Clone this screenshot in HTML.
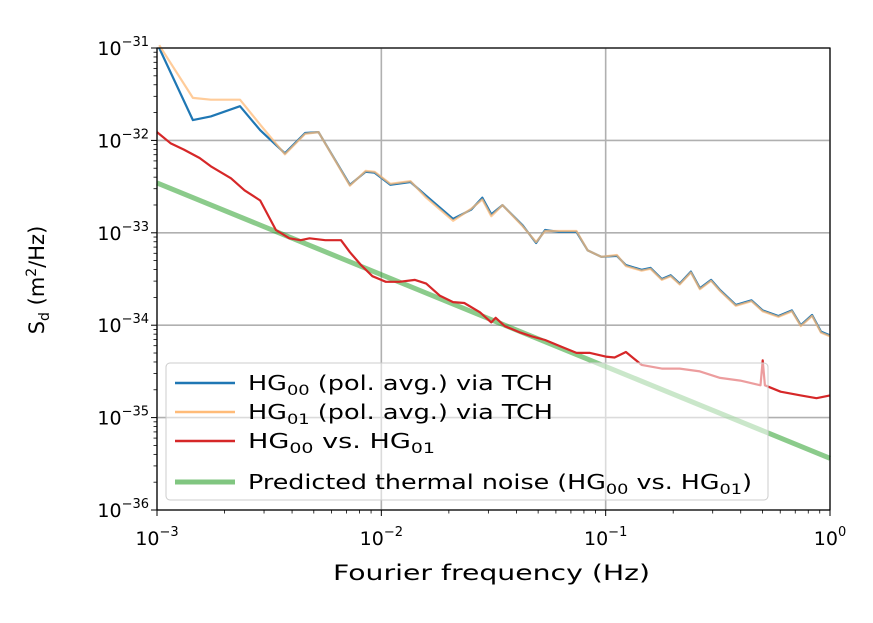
<!DOCTYPE html>
<html><head><meta charset="utf-8"><style>
body{margin:0;background:#fff;}
svg{font-family:"DejaVu Sans","Liberation Sans",sans-serif;}
</style></head><body>
<svg id="chart" width="873" height="618" viewBox="0 0 873 618" xmlns="http://www.w3.org/2000/svg">
<g id="grid"></g>
<g id="series"></g>
<rect x="157" y="48" width="673" height="462" fill="none" stroke="#000" stroke-width="1.2"/>
<g id="ticks"></g>
<text x="333" y="580" font-size="21" textLength="317" lengthAdjust="spacingAndGlyphs">Fourier frequency (Hz)</text>
<text transform="translate(44,280) rotate(-90)" font-size="21" text-anchor="middle">S<tspan font-size="14" dy="5">d</tspan><tspan dy="-5"> (m</tspan><tspan font-size="14" dy="-8">2</tspan><tspan dy="8">/Hz)</tspan></text>
<g id="legend">
<rect x="166" y="363" width="602" height="137" rx="4" fill="rgba(255,255,255,0.55)" stroke="#ccc"/>
<g><line x1="175" y1="383" x2="235" y2="383" stroke="#1f77b4" stroke-width="2.5"/><text x="248" y="390" font-size="20" textLength="305" lengthAdjust="spacingAndGlyphs">HG<tspan font-size="14" dy="5">00</tspan><tspan dy="-5"> (pol. avg.) via TCH</tspan></text></g>
<g><line x1="175" y1="412" x2="235" y2="412" stroke="#ffbb78" stroke-width="2.5"/><text x="248" y="419" font-size="20" textLength="305" lengthAdjust="spacingAndGlyphs">HG<tspan font-size="14" dy="5">01</tspan><tspan dy="-5"> (pol. avg.) via TCH</tspan></text></g>
<g><line x1="175" y1="441" x2="235" y2="441" stroke="#d62728" stroke-width="2.5"/><text x="248" y="448" font-size="20" textLength="187" lengthAdjust="spacingAndGlyphs">HG<tspan font-size="14" dy="5">00</tspan><tspan dy="-5"> vs. HG</tspan><tspan font-size="14" dy="5">01</tspan></text></g>
<g><line x1="175" y1="482" x2="235" y2="482" stroke="#2ca02c" stroke-opacity="0.6" stroke-width="5"/><text x="248" y="489" font-size="20" textLength="504" lengthAdjust="spacingAndGlyphs">Predicted thermal noise (HG<tspan font-size="14" dy="5">00</tspan><tspan dy="-5"> vs. HG</tspan><tspan font-size="14" dy="5">01</tspan><tspan dy="-5">)</tspan></text></g>
</g>
</svg>
<script>
const xDecades=[-3,-2,-1,0];
const yDecades=[-31,-32,-33,-34,-35,-36];
const blueF=[-2.99,-2.84,-2.76,-2.63,-2.54,-2.43,-2.34,-2.28,-2.14,-2.07,-2.03,-1.96,-1.87,-1.80,-1.68,-1.60,-1.55,-1.51,-1.46,-1.37,-1.31,-1.27,-1.21,-1.13,-1.08,-1.02,-0.95,-0.91,-0.84,-0.80,-0.75,-0.71,-0.67,-0.62,-0.58,-0.53,-0.49,-0.42,-0.35,-0.30,-0.23,-0.17,-0.13,-0.08,-0.04,0.00];
const blueS=[-31.00,-31.78,-31.74,-31.63,-31.89,-32.14,-31.92,-31.91,-32.48,-32.34,-32.35,-32.48,-32.45,-32.60,-32.85,-32.75,-32.62,-32.80,-32.70,-32.92,-33.11,-32.97,-32.99,-32.99,-33.19,-33.26,-33.25,-33.35,-33.40,-33.38,-33.50,-33.46,-33.55,-33.42,-33.60,-33.51,-33.62,-33.78,-33.73,-33.84,-33.90,-33.84,-34.00,-33.89,-34.07,-34.11];
const orangeS=[-30.97,-31.54,-31.56,-31.56,-31.83,-32.15,-31.93,-31.91,-32.49,-32.33,-32.34,-32.47,-32.44,-32.62,-32.87,-32.74,-32.64,-32.82,-32.70,-32.93,-33.10,-32.98,-32.98,-32.98,-33.19,-33.26,-33.24,-33.36,-33.41,-33.39,-33.51,-33.47,-33.56,-33.43,-33.61,-33.52,-33.63,-33.79,-33.74,-33.85,-33.91,-33.85,-34.01,-33.90,-34.08,-34.12];
const redF=[-3.00,-2.94,-2.88,-2.81,-2.76,-2.67,-2.61,-2.54,-2.47,-2.41,-2.36,-2.32,-2.25,-2.18,-2.14,-2.09,-2.04,-1.98,-1.92,-1.85,-1.80,-1.74,-1.68,-1.63,-1.56,-1.51,-1.49,-1.45,-1.38,-1.33,-1.27,-1.20,-1.13,-1.07,-1.00,-0.96,-0.91,-0.84,-0.75,-0.67,-0.58,-0.49,-0.40,-0.31,-0.30,-0.29,-0.22,-0.13,-0.06,0.00];
const redS=[-31.91,-32.03,-32.10,-32.19,-32.28,-32.41,-32.54,-32.65,-32.97,-33.06,-33.08,-33.06,-33.08,-33.08,-33.21,-33.35,-33.47,-33.53,-33.53,-33.51,-33.55,-33.68,-33.75,-33.76,-33.86,-33.97,-33.92,-34.01,-34.08,-34.12,-34.16,-34.23,-34.30,-34.30,-34.34,-34.35,-34.29,-34.43,-34.47,-34.47,-34.50,-34.57,-34.60,-34.65,-34.38,-34.65,-34.72,-34.76,-34.79,-34.76];
const greenF=[-3,0];
const greenS=[-32.46,-35.44];
const NS='http://www.w3.org/2000/svg';
const X0=157,X1=830,Y0=48,Y1=510;
const xs=v=>X0+(v+3)/3*(X1-X0);
const ys=v=>Y0+(-31-v)/5*(Y1-Y0);
function mk(tag,attrs,parent){const e=document.createElementNS(NS,tag);for(const k in attrs)e.setAttribute(k,attrs[k]);parent.appendChild(e);return e;}
const grid=document.getElementById('grid'),ticks=document.getElementById('ticks'),ser=document.getElementById('series');
xDecades.forEach(d=>{
 const g=mk('line',{x1:xs(d),x2:xs(d),y1:Y0,y2:Y1,stroke:'#b0b0b0','stroke-width':1.6},grid);
 
 
 mk('line',{x1:xs(d),x2:xs(d),y1:Y1,y2:Y1+6,stroke:'#000'},ticks);
 const t=mk('text',{x:xs(d),y:545,'font-size':19,'text-anchor':'middle'},ticks);
 
 
 t.innerHTML='10<tspan font-size="13" dy="-9">'+(d<0?'−'+(-d):d)+'</tspan>';
 if(d<0)for(let m=2;m<10;m++){const x=xs(d+Math.log10(m));mk('line',{x1:x,x2:x,y1:Y1,y2:Y1+3.5,stroke:'#000','stroke-width':0.8},ticks);}
});
yDecades.forEach(d=>{
 const g=mk('line',{x1:X0,x2:X1,y1:ys(d),y2:ys(d),stroke:'#b0b0b0','stroke-width':1.6},grid);
 
 
 mk('line',{x1:X0-6,x2:X0,y1:ys(d),y2:ys(d),stroke:'#000'},ticks);
 const t=mk('text',{x:X0-8,y:ys(d)+7,'font-size':19,'text-anchor':'end'},ticks);
 
 
 t.innerHTML='10<tspan font-size="13" dy="-9">−'+(-d)+'</tspan>';
 if(d>-36)for(let m=2;m<10;m++){const y=ys(d-1+Math.log10(m));mk('line',{x1:X0-3.5,x2:X0,y1:y,y2:y,stroke:'#000','stroke-width':0.8},ticks);}
});
function line(F,S,color,w,op,name){
 const p=mk('path',{d:F.map((f,i)=>(i?'L':'M')+xs(f).toFixed(1)+','+ys(S[i]).toFixed(1)).join(''),fill:'none',stroke:color,'stroke-width':w,'stroke-opacity':op,'stroke-linejoin':'round'},ser);
 
 
}
line(greenF,greenS,'#2ca02c',5,0.55,'thermal-noise-line');
line(redF,redS,'#d62728',2.2,1,'hg00-vs-hg01-line');
line(blueF,blueS,'#1f77b4',2.2,1,'hg00-tch-line');
line(blueF,orangeS,'#ffbb78',2.2,0.75,'hg01-tch-line');
</script>
</body></html>
